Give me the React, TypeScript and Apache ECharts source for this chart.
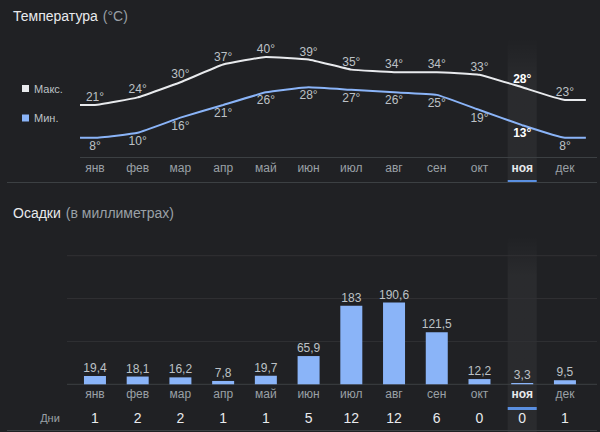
import React, { useEffect, useRef } from "react";
import * as echarts from "echarts";

const months = ["янв", "фев", "мар", "апр", "май", "июн", "июл", "авг", "сен", "окт", "ноя", "дек"];
const maxTemp = [21, 24, 30, 37, 40, 39, 35, 34, 34, 33, 28, 23];
const minTemp = [8, 10, 16, 21, 26, 28, 27, 26, 25, 19, 13, 8];
const precip = [19.4, 18.1, 16.2, 7.8, 19.7, 65.9, 183, 190.6, 121.5, 12.2, 3.3, 9.5];
const rainDays = [1, 2, 2, 1, 1, 5, 12, 12, 6, 0, 0, 1];
const highlightMonth = "ноя";
const precipTicks = [100, 200, 300];

const BG = "#202124";
const FONT = "Arial, 'Liberation Sans', sans-serif";
const LIGHT = "#e8eaed";
const MID = "#bdc1c6";
const DIM = "#9aa0a6";
const BLUE = "#8ab4f8";
const LINEC = "#3c4043";

const GRID_LEFT = 73.6;
const GRID_WIDTH = 512.7;

function lineData(vals: number[], highlighted: number) {
  const pts: any[] = [];
  pts.push({ value: [-0.35, vals[0]], label: { show: false } });
  vals.forEach((v, i) => {
    if (i === highlighted) {
      pts.push({ value: [i, v], label: { fontWeight: "bold", color: "#ffffff" } });
    } else {
      pts.push({ value: [i, v] });
    }
  });
  pts.push({ value: [11.49, vals[vals.length - 1]], label: { show: false } });
  return pts;
}

export default function App() {
  const ref = useRef<HTMLDivElement>(null);
  useEffect(() => {
    if (!ref.current) return;
    const chart = echarts.init(ref.current, null, { renderer: "svg" });
    const hIdx = months.indexOf(highlightMonth);
    const monthFmt = (v: string) => (v === highlightMonth ? `{h|${v}}` : v);
    const titleRich = {
      a: { fontSize: 14, color: LIGHT, fontFamily: FONT, fontWeight: "normal" },
      b: { fontSize: 14, color: DIM, fontFamily: FONT, fontWeight: "normal" },
    };
    const option: any = {
      animation: false,
      backgroundColor: BG,
      textStyle: { fontFamily: FONT },
      title: [
        {
          left: 8,
          top: 2,
          text: "{a|Температура} {b|(°C)}",
          textStyle: { fontWeight: "normal", rich: titleRich },
        },
        {
          left: 8,
          top: 199,
          text: "{a|Осадки} {b|(в миллиметрах)}",
          textStyle: { fontWeight: "normal", rich: titleRich },
        },
      ],
      legend: {
        orient: "vertical",
        left: 17,
        top: 78,
        itemWidth: 7,
        itemHeight: 7,
        itemGap: 18.5,
        icon: "rect",
        selectedMode: false,
        data: ["Макс.", "Мин."],
        textStyle: { color: MID, fontSize: 11, fontFamily: FONT },
      },
      grid: [
        { left: GRID_LEFT, width: GRID_WIDTH, top: 57, height: 101 },
        { left: GRID_LEFT, width: GRID_WIDTH, top: 255.7, height: 128.6 },
      ],
      xAxis: [
        {
          type: "category",
          gridIndex: 0,
          data: months,
          axisLine: { show: false },
          axisTick: { show: false },
          axisLabel: {
            interval: 0,
            margin: 4,
            color: DIM,
            fontSize: 12,
            fontFamily: FONT,
            formatter: monthFmt,
            rich: { h: { fontWeight: "bold", color: LIGHT, fontSize: 12, fontFamily: FONT } },
          },
        },
        {
          type: "value",
          gridIndex: 0,
          min: -0.5,
          max: 11.5,
          show: false,
        },
        {
          type: "category",
          gridIndex: 1,
          data: months,
          axisLine: { show: false },
          axisTick: { show: false },
          axisLabel: {
            interval: 0,
            margin: 4,
            color: DIM,
            fontSize: 12,
            fontFamily: FONT,
            formatter: monthFmt,
            rich: { h: { fontWeight: "bold", color: LIGHT, fontSize: 12, fontFamily: FONT } },
          },
        },
        {
          type: "category",
          gridIndex: 1,
          data: months,
          position: "bottom",
          offset: 24,
          axisLine: { show: false },
          axisTick: { show: false },
          axisLabel: {
            interval: 0,
            margin: 3,
            color: LIGHT,
            fontSize: 14,
            fontFamily: FONT,
            formatter: (_v: string, i: number) => String(rainDays[i]),
          },
        },
      ],
      yAxis: [
        { type: "value", gridIndex: 0, min: 0, max: 40, show: false },
        {
          type: "value",
          gridIndex: 1,
          min: 0,
          max: 300,
          interval: 100,
          axisLine: { show: false },
          axisTick: { show: false },
          axisLabel: { show: false },
          splitLine: { show: false },
        },
      ],
      series: [
        {
          name: "Макс.",
          type: "line",
          xAxisIndex: 1,
          yAxisIndex: 0,
          data: lineData(maxTemp, hIdx),
          smooth: 0.1,
          symbol: "circle",
          symbolSize: 0,
          itemStyle: { color: LIGHT },
          lineStyle: { color: LIGHT, width: 2 },
          label: {
            show: true,
            position: "top",
            distance: 2,
            color: MID,
            fontSize: 12,
            fontFamily: FONT,
            formatter: (p: any) => `${p.value[1]}°`,
          },
          z: 3,
        },
        {
          name: "Мин.",
          type: "line",
          xAxisIndex: 1,
          yAxisIndex: 0,
          data: lineData(minTemp, hIdx),
          smooth: 0.1,
          symbol: "circle",
          symbolSize: 0,
          itemStyle: { color: BLUE },
          lineStyle: { color: BLUE, width: 2 },
          label: {
            show: true,
            position: "bottom",
            distance: 2,
            color: MID,
            fontSize: 12,
            fontFamily: FONT,
            formatter: (p: any) => `${p.value[1]}°`,
          },
          z: 3,
        },
        {
          name: "Осадки",
          type: "bar",
          xAxisIndex: 2,
          yAxisIndex: 1,
          data: precip,
          barWidth: 22,
          itemStyle: { color: BLUE },
          label: {
            show: true,
            position: "top",
            distance: 2,
            color: MID,
            fontSize: 12,
            fontFamily: FONT,
            formatter: (p: any) => String(p.value).replace(".", ","),
          },
          z: 3,
        },
      ],
    };
    chart.setOption(option);

    const hx = chart.convertToPixel({ xAxisIndex: 0 }, highlightMonth) as number;
    const yTempBase = chart.convertToPixel({ yAxisIndex: 0 }, 0) as number;
    const yBarBase = chart.convertToPixel({ yAxisIndex: 1 }, 0) as number;
    const gridYs = precipTicks.map((v) => chart.convertToPixel({ yAxisIndex: 1 }, v) as number);
    const hw = 29;
    const fade = (a: number) => ({
      type: "linear",
      x: 0,
      y: 0,
      x2: 0,
      y2: 1,
      colorStops: [
        { offset: 0, color: "rgba(255,255,255,0)" },
        { offset: a, color: "rgba(255,255,255,0.045)" },
        { offset: 1, color: "rgba(255,255,255,0.045)" },
      ],
    });
    const graphic: any[] = [
      {
        type: "rect",
        z: 0,
        shape: { x: hx - hw / 2, y: 38, width: hw, height: 145 },
        style: { fill: fade(0.3) },
      },
      {
        type: "rect",
        z: 0,
        shape: { x: hx - hw / 2, y: 236, width: hw, height: 196 },
        style: { fill: fade(0.2) },
      },
      {
        type: "rect",
        z: 1,
        shape: { x: hx - hw / 2, y: 180, width: hw, height: 3 },
        style: { fill: "#5a8fe0" },
      },
      {
        type: "rect",
        z: 1,
        shape: { x: hx - hw / 2, y: 407, width: hw, height: 3 },
        style: { fill: "#5a8fe0" },
      },
      {
        type: "line",
        z: 1,
        shape: { x1: 80, y1: yTempBase - 0.5, x2: 597, y2: yTempBase - 0.5 },
        style: { stroke: LINEC, lineWidth: 1 },
      },
      {
        type: "line",
        z: 1,
        shape: { x1: 7, y1: 182.5, x2: 597, y2: 182.5 },
        style: { stroke: LINEC, lineWidth: 1 },
      },
      {
        type: "line",
        z: 1,
        shape: { x1: 67, y1: yBarBase, x2: 597, y2: yBarBase },
        style: { stroke: LINEC, lineWidth: 1 },
      },
      ...gridYs.map((y) => ({
        type: "line",
        z: 1,
        shape: { x1: 67, y1: y, x2: 597, y2: y },
        style: { stroke: "#303134", lineWidth: 1 },
      })),
      {
        type: "line",
        z: 1,
        shape: { x1: 7, y1: 430.5, x2: 597, y2: 430.5 },
        style: { stroke: LINEC, lineWidth: 1 },
      },
      {
        type: "text",
        z: 2,
        x: 50,
        y: 418,
        style: {
          text: "Дни",
          fill: DIM,
          fontSize: 11,
          fontFamily: FONT,
          align: "center",
          verticalAlign: "middle",
        },
      },
    ];
    chart.setOption({ graphic });
    return () => chart.dispose();
  }, []);
  return <div ref={ref} style={{ width: 600, height: 432, position: "absolute", left: 0, top: 0 }} />;
}
